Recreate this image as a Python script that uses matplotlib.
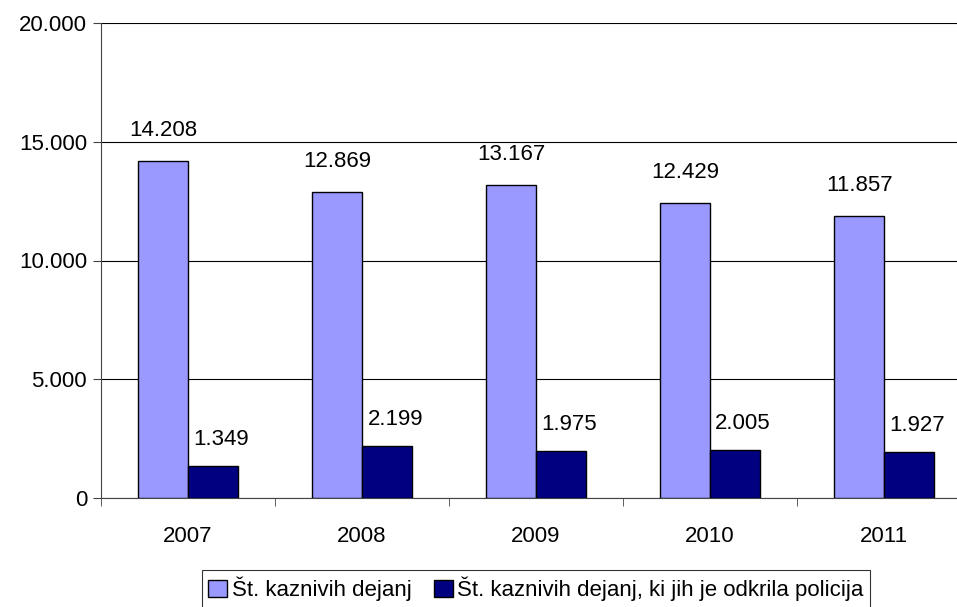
#!/usr/bin/env python3
"""Bar chart: criminal offences vs. offences detected by police, 2007-2011."""

import matplotlib

matplotlib.use("Agg")
import matplotlib.pyplot as plt
import matplotlib.patches as mpatches
import numpy as np
from matplotlib.ticker import FuncFormatter

years = ["2007", "2008", "2009", "2010", "2011"]
total_offences = [14208, 12869, 13167, 12429, 11857]
police_detected = [1349, 2199, 1975, 2005, 1927]
series_names = ["Št. kaznivih dejanj", "Št. kaznivih dejanj, ki jih je odkrila policija"]

LIGHT = "#9999FF"
DARK = "#000080"

plt.rcParams["font.family"] = ["Liberation Sans", "DejaVu Sans"]
plt.rcParams["font.size"] = 16


def thousands(v, _pos):
    return f"{int(v):,}".replace(",", ".")


fig = plt.figure(figsize=(9.57, 6.07), dpi=100)
W, H = 957, 607
ax = fig.add_axes([101 / W, (H - 498) / H, 870 / W, 475 / H])

x = np.arange(len(years))
bw = 0.285
b1 = ax.bar(x - bw / 2, total_offences, bw, color=LIGHT, edgecolor="black", linewidth=1.0, zorder=3)
b2 = ax.bar(x + bw / 2, police_detected, bw, color=DARK, edgecolor="black", linewidth=1.0, zorder=3)

for bar, val in zip(b1, total_offences):
    ax.annotate(thousands(val, None), (bar.get_x() + bar.get_width() / 2, bar.get_height()),
                xytext=(0, 22), textcoords="offset points", ha="center", va="center")
for bar, val in zip(b2, police_detected):
    ax.annotate(thousands(val, None), (bar.get_x() + bar.get_width() / 2, bar.get_height()),
                xytext=(6, 19), textcoords="offset points", ha="center", va="center")

ax.set_xlim(-0.5, len(years) - 0.5)
ax.set_ylim(0, 20000)
ax.set_yticks(np.arange(0, 20001, 5000))
ax.yaxis.set_major_formatter(FuncFormatter(thousands))
ax.yaxis.grid(True, color="black", linewidth=0.8, zorder=0)

ax.set_xticks(x)
ax.set_xticklabels(years)
ax.set_xticks(np.arange(-0.5, len(years), 1.0), minor=True)
ax.tick_params(axis="x", which="major", length=0, pad=20)
ax.tick_params(axis="x", which="minor", length=6, color="#444444")
ax.tick_params(axis="y", length=6, color="#444444", pad=4)

for side in ("top", "right"):
    ax.spines[side].set_visible(False)
ax.spines["left"].set_color("#444444")
ax.spines["bottom"].set_color("#444444")
ax.axhline(20000, color="#808080", linewidth=1.2, zorder=1)

handles = [mpatches.Patch(facecolor=LIGHT, edgecolor="black"),
           mpatches.Patch(facecolor=DARK, edgecolor="black")]
leg = fig.legend(handles, series_names, loc="lower center", bbox_to_anchor=(536 / W, -0.005),
                 ncol=2, frameon=True, fancybox=False, edgecolor="black",
                 handlelength=0.85, handleheight=0.85, handletextpad=0.2, columnspacing=1.0,
                 borderpad=0.3, borderaxespad=0.1)
leg.get_frame().set_linewidth(0.8)

fig.savefig("out.png", dpi=100, facecolor="white")
